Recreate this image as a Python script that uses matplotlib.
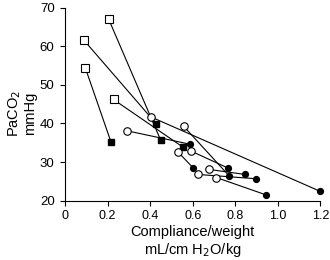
import matplotlib
matplotlib.use("Agg")
import matplotlib.pyplot as plt

plt.rcParams['font.family'] = ['Liberation Sans', 'DejaVu Sans']

# each patient: first value (open marker) -> second value (filled marker)
sq_before_x = [0.205, 0.088, 0.096, 0.228]
sq_before_y = [67.0, 61.6, 54.3, 46.2]
sq_after_x = [0.450, 0.429, 0.216, 0.556]
sq_after_y = [35.6, 39.9, 35.2, 33.8]

circ_before_x = [0.403, 0.291, 0.533, 0.557, 0.590, 0.625, 0.677, 0.711]
circ_before_y = [41.7, 38.1, 32.5, 39.3, 32.9, 26.8, 28.1, 26.0]
circ_after_x = [1.200, 0.589, 0.602, 0.770, 0.764, 0.895, 0.846, 0.945]
circ_after_y = [22.4, 34.6, 28.5, 26.5, 28.5, 25.7, 26.8, 21.5]

x_ticks = [0, 0.2, 0.4, 0.6, 0.8, 1.0, 1.2]
x_tick_labels = ['0', '0.2', '0.4', '0.6', '0.8', '1.0', '1.2']
y_ticks = [20, 30, 40, 50, 60, 70]

fig = plt.figure(figsize=(3.3, 2.6), dpi=100)
ax = fig.add_axes([0.197, 0.228, 0.774, 0.743])

lw = 0.8
for i in range(len(sq_before_x)):
    ax.plot([sq_before_x[i], sq_after_x[i]], [sq_before_y[i], sq_after_y[i]],
            color='black', lw=lw, zorder=1)
for i in range(len(circ_before_x)):
    ax.plot([circ_before_x[i], circ_after_x[i]], [circ_before_y[i], circ_after_y[i]],
            color='black', lw=lw, zorder=1)

ax.plot(sq_before_x, sq_before_y, ls='none', marker='s', ms=5.6, mfc='white',
        mec='black', mew=0.8, zorder=3, clip_on=False)
ax.plot(sq_after_x, sq_after_y, ls='none', marker='s', ms=4.5, mfc='black',
        mec='black', zorder=3, clip_on=False)
ax.plot(circ_before_x, circ_before_y, ls='none', marker='o', ms=5.4, mfc='white',
        mec='black', mew=0.8, zorder=3, clip_on=False)
ax.plot(circ_after_x, circ_after_y, ls='none', marker='o', ms=4.2, mfc='black',
        mec='black', zorder=3, clip_on=False)

ax.set_xlim(0, 1.2)
ax.set_ylim(20, 70)
ax.set_xticks(x_ticks)
ax.set_xticklabels(x_tick_labels)
ax.set_yticks(y_ticks)
ax.spines['top'].set_visible(False)
ax.spines['right'].set_visible(False)
ax.spines['left'].set_linewidth(0.8)
ax.spines['bottom'].set_linewidth(0.8)
ax.tick_params(direction='out', length=3.5, width=0.8, labelsize=9)
ax.tick_params(axis='y', pad=4, labelsize=9.5)
ax.tick_params(axis='x', pad=3)

ax.set_xlabel('Compliance/weight\nmL/cm H$_2$O/kg', fontsize=10.5, linespacing=1.15)
ax.xaxis.set_label_coords(0.5, -0.125)
ax.set_ylabel('PaCO$_2$\nmmHg', fontsize=10.5, linespacing=1.0)
ax.yaxis.set_label_coords(-0.11, 0.45)

fig.savefig('out.png', dpi=100)
